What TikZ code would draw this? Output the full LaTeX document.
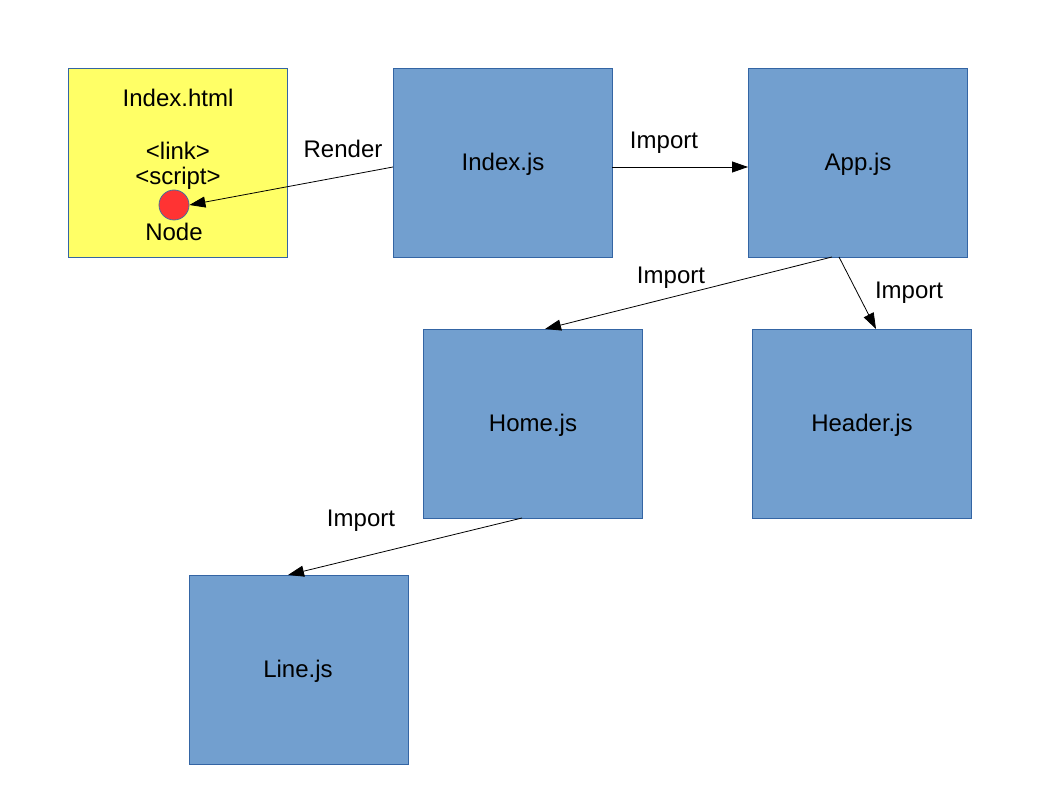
\documentclass[tikz,border=0pt]{standalone}
\usepackage{fontspec}
\setmainfont{Liberation Sans}
\usetikzlibrary{arrows.meta}
\definecolor{boxblue}{HTML}{729FCF}
\definecolor{edgeblue}{HTML}{3465A4}
\definecolor{htmlyellow}{HTML}{FFFF66}
\definecolor{nodered}{HTML}{FF3333}
\begin{document}
\begin{tikzpicture}[x=1pt,y=-1pt,
  font=\fontsize{24}{28}\selectfont,
  jsbox/.style={draw=edgeblue,fill=boxblue,line width=1pt,minimum width=219pt,minimum height=189pt,inner sep=0pt,anchor=north west},
  htmlbox/.style={draw=edgeblue,fill=htmlyellow,line width=1pt,minimum width=219pt,minimum height=189pt,inner sep=0pt,anchor=north west},
  conn/.style={draw=black,line width=0.8pt,-{Triangle[length=16pt,width=11pt]}},
  lbl/.style={inner sep=0pt}]
\useasboundingbox (0,0) rectangle (1058,794);
\fill[white] (0,0) rectangle (1058,794);
\node[htmlbox] (html) at (68,68) {};
\node[jsbox] (indexjs) at (393,68) {};
\node[jsbox] (appjs) at (748,68) {};
\node[jsbox] (homejs) at (423,329) {};
\node[jsbox] (headerjs) at (752,329) {};
\node[jsbox] (linejs) at (189,575) {};
\node[lbl] at (503,164) {Index.js};
\node[lbl] at (858,164) {App.js};
\node[lbl] at (533,425) {Home.js};
\node[lbl] at (862,425) {Header.js};
\node[lbl] at (298,671) {Line.js};
\node[lbl] (t1) at (178,98) {Index.html};
\node[lbl] (t2) at (178,151) {<link>};
\node[lbl] (t3) at (178,178) {<script>};
\node[circle,draw=edgeblue!70!gray,fill=nodered,line width=0.8pt,minimum size=30pt,inner sep=0pt] (dot) at (174,205) {};
\node[lbl] (t4) at (174,232) {Node};
\coordinate (rs) at (393,167);
\draw[conn] (rs) -- (dot.east);
\node[lbl] at (343,149) {Render};
\coordinate (ia) at (612,167);
\coordinate (ib) at (748,167);
\draw[conn] (ia) -- (ib);
\node[lbl] at (664,143) {Import};
\coordinate (ah1) at (832,257);
\coordinate (ah2) at (545,329);
\draw[conn] (ah1) -- (ah2);
\node[lbl] at (671,278) {Import};
\coordinate (ahd1) at (839,257);
\coordinate (ahd2) at (876,329);
\draw[conn] (ahd1) -- (ahd2);
\node[lbl] at (909,293) {Import};
\coordinate (hl1) at (522,518);
\coordinate (hl2) at (288,575);
\draw[conn] (hl1) -- (hl2);
\node[lbl] at (361,521) {Import};
\end{tikzpicture}
\end{document}
